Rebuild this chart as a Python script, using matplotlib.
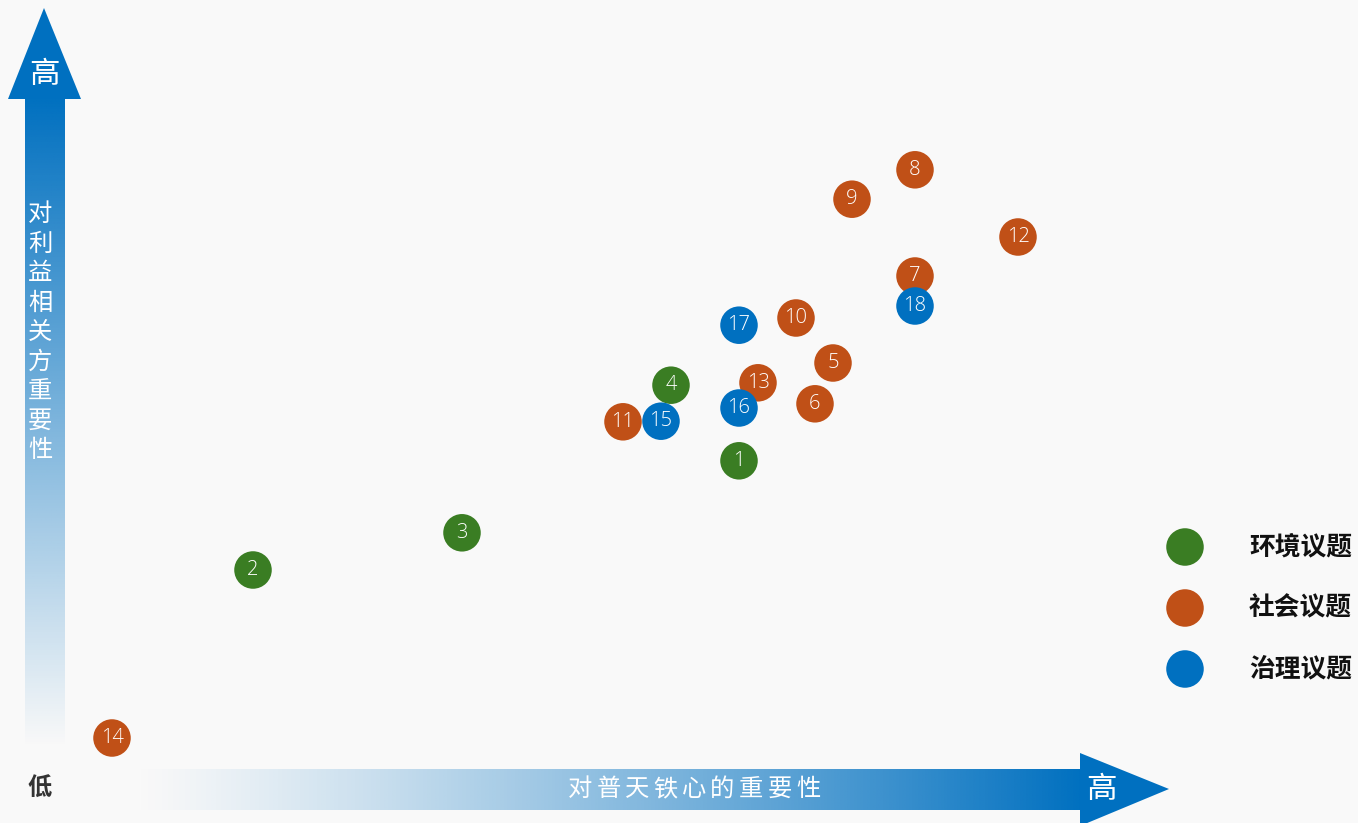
import numpy as np
import matplotlib
matplotlib.use("Agg")
import matplotlib.pyplot as plt
from matplotlib.patches import Polygon

plt.rcParams['font.family'] = ['Noto Sans CJK SC', 'DejaVu Sans']

# ---- data ----
ids = [1, 2, 3, 4, 5, 6, 7, 8, 9, 10, 11, 12, 13, 14, 15, 16, 17, 18]
categories = ['env', 'env', 'env', 'env', 'soc', 'soc', 'soc', 'soc', 'soc', 'soc',
              'soc', 'soc', 'soc', 'soc', 'gov', 'gov', 'gov', 'gov']
x_importance = [6.39, 1.53, 3.62, 5.71, 7.33, 7.15, 8.15, 8.15, 7.52, 6.96,
                5.23, 9.18, 6.58, 0.12, 5.61, 6.39, 6.39, 8.15]
y_importance = [4.82, 3.00, 3.62, 6.08, 6.45, 5.77, 7.90, 9.67, 9.18, 7.20,
                5.47, 8.55, 6.12, 0.20, 5.48, 5.70, 7.08, 7.40]
legend_labels = {'env': '环境议题', 'soc': '社会议题', 'gov': '治理议题'}
colors = {'env': '#3a7d23', 'soc': '#c05017', 'gov': '#0070c0'}
x_title = '对普天铁心的重要性'
y_title = '对利益相关方重要性'
high_label = '高'
low_label = '低'

BG = '#f9f9f9'
BLUE = np.array([0, 112, 192]) / 255.0

W, H = 1358, 823
fig = plt.figure(figsize=(W / 100, H / 100), dpi=100, facecolor=BG)

# decoration axes in pixel coordinates
deco = fig.add_axes([0, 0, 1, 1])
deco.set_xlim(0, W)
deco.set_ylim(H, 0)
deco.axis('off')
deco.set_facecolor(BG)

# vertical arrow
vx0, vx1, vtop, vbot = 25, 65, 98, 748
grad_v = np.zeros((256, 1, 4))
grad_v[:, 0, :3] = BLUE
grad_v[:, 0, 3] = np.linspace(1.0, 0.0, 256) ** 1.0
deco.imshow(grad_v, extent=(vx0, vx1, vbot, vtop), aspect='auto', zorder=1,
            interpolation='bilinear')
deco.add_patch(Polygon([[8, 99], [81, 99], [44, 8]], closed=True,
                       facecolor=BLUE, edgecolor='none', zorder=2))
deco.text(44, 74, high_label, color='white', fontsize=22, ha='center', va='center', zorder=3)
for i, ch in enumerate(y_title):
    deco.text(40, 214 + i * 29.5, ch, color='white', fontsize=17.5, ha='center',
              va='center', zorder=3, fontweight='light')

# horizontal arrow
hx0, hx1, hy0, hy1 = 130, 1081, 769, 810
grad_h = np.zeros((1, 256, 4))
grad_h[0, :, :3] = BLUE
grad_h[0, :, 3] = np.linspace(0.0, 1.0, 256) ** 1.2
deco.imshow(grad_h, extent=(hx0, hx1, hy1, hy0), aspect='auto', zorder=1,
            interpolation='bilinear')
deco.add_patch(Polygon([[1080, 753], [1080, 826], [1169, 789]], closed=True,
                       facecolor=BLUE, edgecolor='none', zorder=2))
deco.text(1101, 789, high_label, color='white', fontsize=22, ha='center', va='center', zorder=3)
xt_center = 694
for i, ch in enumerate(x_title):
    deco.text(xt_center + (i - 4) * 28.5, 789, ch, color='white', fontsize=17.5,
              ha='center', va='center', zorder=3, fontweight='light')
deco.text(40, 789, low_label, color='#333333', fontsize=17.5, ha='center', va='center',
          fontweight='bold', zorder=3)

deco.set_xlim(0, W)
deco.set_ylim(H, 0)

# data axes
ax = fig.add_axes([100 / W, (H - 750) / H, 1000 / W, 600 / H])
ax.set_xlim(0, 10)
ax.set_ylim(0, 10)
ax.axis('off')
ax.patch.set_alpha(0)

order = ['env', 'soc', 'gov']
for z, cat in enumerate(order):
    xs = [x for x, c in zip(x_importance, categories) if c == cat]
    ys = [y for y, c in zip(y_importance, categories) if c == cat]
    ns = [n for n, c in zip(ids, categories) if c == cat]
    for x, y, n in zip(xs, ys, ns):
        ax.scatter([x], [y], s=730, color=colors[cat], edgecolors='none',
                   zorder=3 + z * 2, clip_on=False)
        ax.text(x, y, str(n), color='white', fontsize=14.5, ha='center', va='center',
                family=['Open Sans', 'DejaVu Sans'], fontweight='light',
                zorder=4 + z * 2)

# legend
for i, cat in enumerate(order):
    yy = 547 + i * 61
    deco.scatter([1185], [yy], s=730, color=colors[cat], edgecolors='none', zorder=3,
                 clip_on=False)
    deco.text(1249, yy, legend_labels[cat], color='#111111', fontsize=18.5,
              fontweight='bold', ha='left', va='center', zorder=3)

fig.savefig('out.png', dpi=100, facecolor=BG)
